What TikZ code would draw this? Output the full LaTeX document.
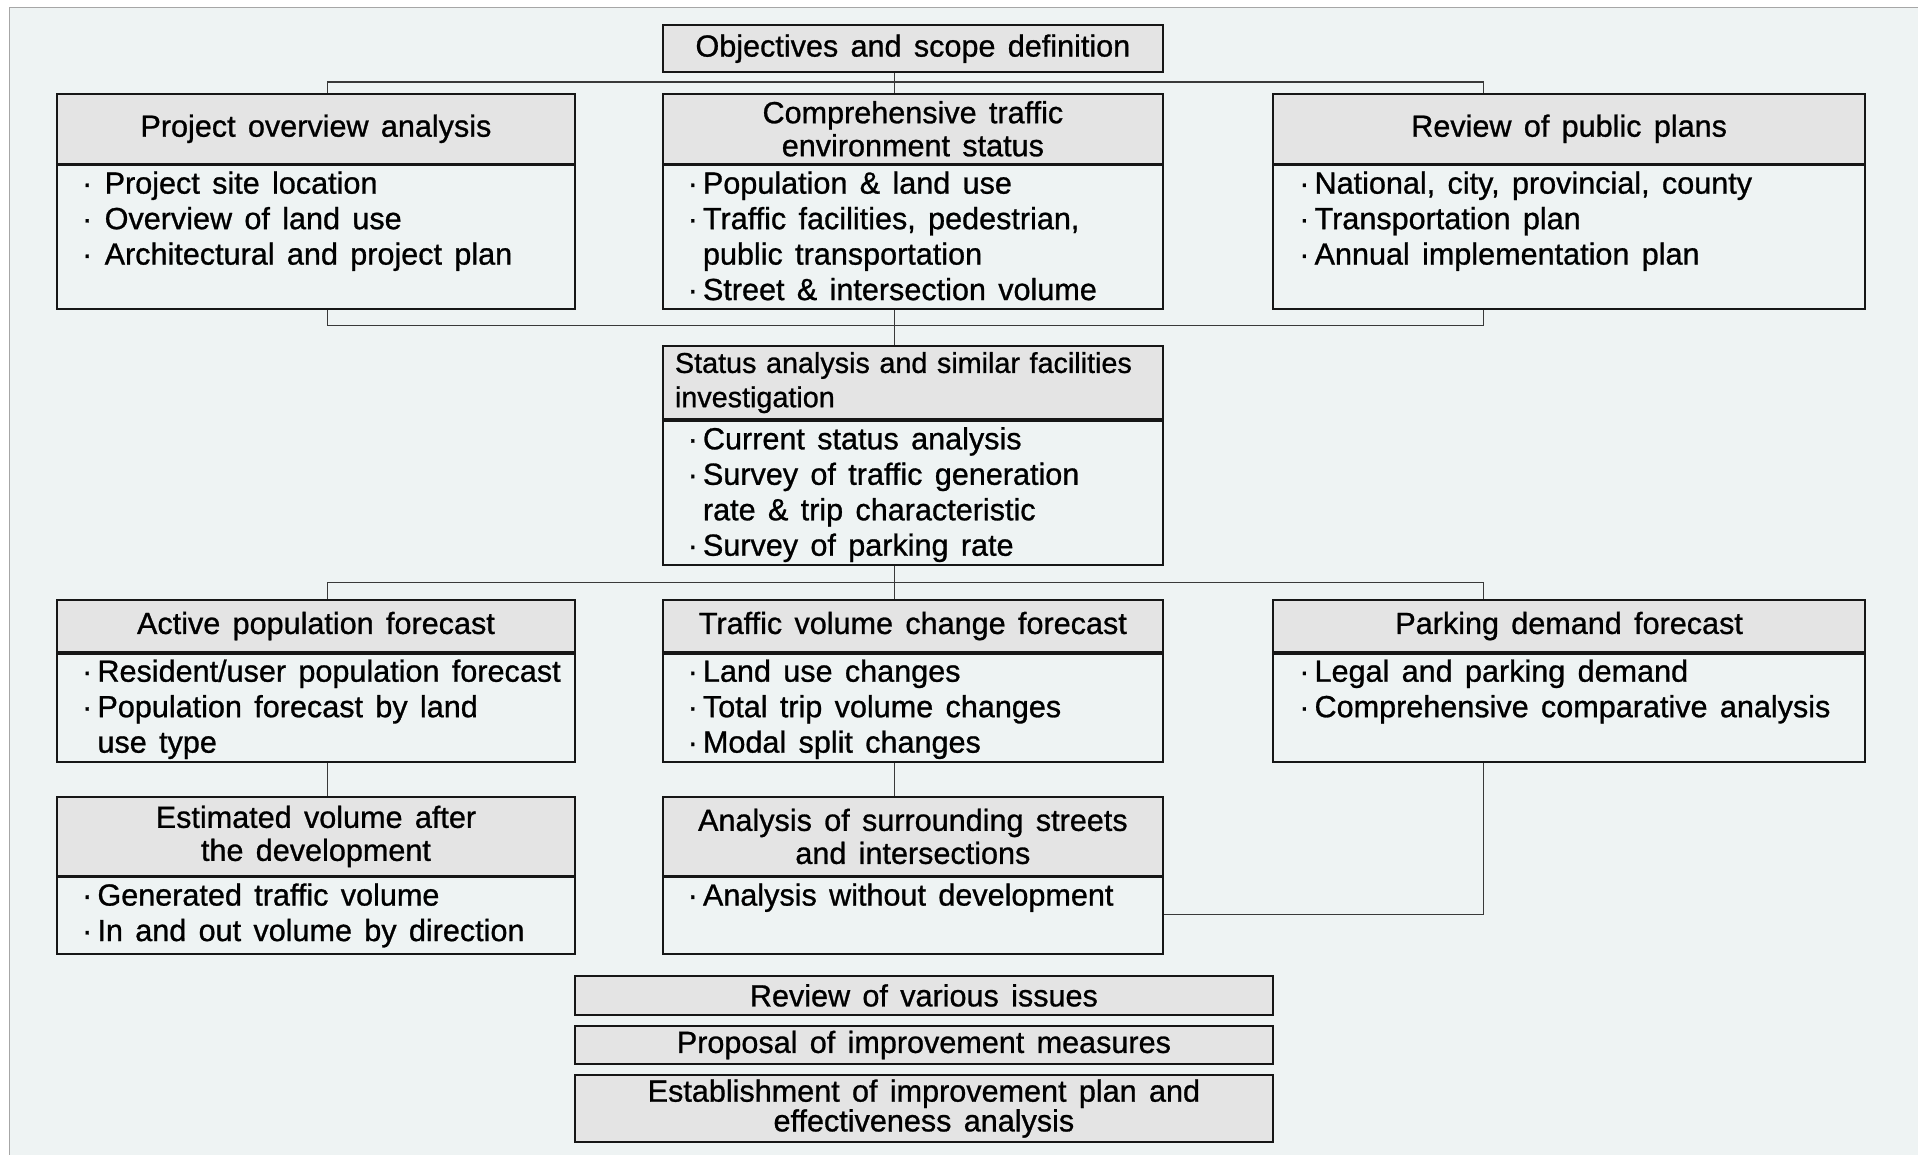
\documentclass[tikz,border=0pt]{standalone}
\usepackage{fontspec}
\setmainfont{Liberation Sans}[WordSpace=1.45, FakeBold=0.9]
\definecolor{paper}{HTML}{EEF3F3}
\definecolor{headgray}{HTML}{E4E4E4}
\definecolor{ink}{HTML}{161616}
\tikzset{
  box/.style={draw=ink, line width=1.6pt, inner sep=0pt, anchor=north west},
  head/.style={box, fill=headgray, align=center, font=\fontsize{25}{27}\selectfont},
  body/.style={box, fill=paper},
  items/.style={anchor=north west, align=left, inner sep=0pt, font=\fontsize{25}{29}\selectfont},
  sep/.style={draw=ink, line width=3pt},
  link/.style={draw=ink!85, line width=0.9pt},
}
\begin{document}
\begin{tikzpicture}[x=1pt, y=-1pt]
  \useasboundingbox (0,0) rectangle (1568,944);
  \fill[white] (0,0) rectangle (1568,944);
  \fill[paper] (8,6) rectangle (1568,944);
  \draw[gray!70, line width=1pt] (8,944) -- (8,6) -- (1568,6);

  \coordinate (cl) at (268,0);
  \coordinate (cm) at (731,0);
  \coordinate (cr) at (1213,0);
  \coordinate (b1) at (731,67);
  \coordinate (b2) at (731,266);
  \coordinate (b3) at (731,476);

  \node[head, minimum width=409pt, minimum height=38pt] (obj) at (541,20) {Objectives and scope definition};

  \node[body, minimum width=423pt, minimum height=119pt] (povb) at (46,133) {};
  \node[head, minimum width=423pt, minimum height=57pt] (pov) at (46,76) {Project overview analysis};
  \node[items] at (67,140) {· Project site location\\· Overview of land use\\· Architectural and project plan};

  \node[body, minimum width=409pt, minimum height=119pt] (cteb) at (541,133) {};
  \node[head, minimum width=409pt, minimum height=57pt] (cte) at (541,76) {Comprehensive traffic\\environment status};
  \node[items] at (562,140) {·\,Population \& land use\\·\,Traffic facilities, pedestrian,\\\hphantom{·\,}public transportation\\·\,Street \& intersection volume};

  \node[body, minimum width=484pt, minimum height=119pt] (rppb) at (1040,133) {};
  \node[head, minimum width=484pt, minimum height=57pt] (rpp) at (1040,76) {Review of public plans};
  \node[items] at (1062,140) {·\,National, city, provincial, county\\·\,Transportation plan\\·\,Annual implementation plan};

  \node[body, minimum width=409pt, minimum height=119pt] (stab) at (541,342) {};
  \node[head, minimum width=409pt, minimum height=60pt, text width=409pt, align=left, font=\fontsize{23.5}{28}\selectfont] (sta) at (541,282) {\hspace*{10pt}Status analysis and similar facilities\\\hspace*{10pt}investigation};
  \node[items] at (562,349) {·\,Current status analysis\\·\,Survey of traffic generation\\\hphantom{·\,}rate \& trip characteristic\\·\,Survey of parking rate};

  \node[body, minimum width=423pt, minimum height=90pt] (apfb) at (46,532) {};
  \node[head, minimum width=423pt, minimum height=42pt] (apf) at (46,490) {Active population forecast};
  \node[items] at (67,539) {·\,Resident/user population forecast\\·\,Population forecast by land\\\hphantom{·\,}use type};

  \node[body, minimum width=409pt, minimum height=90pt] (tvcb) at (541,532) {};
  \node[head, minimum width=409pt, minimum height=42pt] (tvc) at (541,490) {Traffic volume change forecast};
  \node[items] at (562,539) {·\,Land use changes\\·\,Total trip volume changes\\·\,Modal split changes};

  \node[body, minimum width=484pt, minimum height=90pt] (pdfb) at (1040,532) {};
  \node[head, minimum width=484pt, minimum height=42pt] (pdf) at (1040,490) {Parking demand forecast};
  \node[items] at (1062,539) {·\,Legal and parking demand\\·\,Comprehensive comparative analysis};

  \node[body, minimum width=423pt, minimum height=64pt] (evdb) at (46,715) {};
  \node[head, minimum width=423pt, minimum height=64pt] (evd) at (46,651) {Estimated volume after\\the development};
  \node[items] at (67,722) {·\,Generated traffic volume\\·\,In and out volume by direction};

  \node[body, minimum width=409pt, minimum height=64pt] (asib) at (541,715) {};
  \node[head, minimum width=409pt, minimum height=64pt] (asi) at (541,651) {Analysis of surrounding streets\\and intersections};
  \node[items] at (562,722) {·\,Analysis without development};

  \node[head, minimum width=571pt, minimum height=32pt] (rvi) at (469,797) {Review of various issues};
  \node[head, minimum width=571pt, minimum height=31pt] (pim) at (469,838) {Proposal of improvement measures};
  \node[head, minimum width=571pt, minimum height=55pt, font=\fontsize{25}{23}\selectfont] (eip) at (469,878) {Establishment of improvement plan and\\effectiveness analysis};

  \foreach \n in {pov,cte,rpp,sta,apf,tvc,pdf,evd,asi}
    \draw[sep] (\n.south west) -- (\n.south east);

  \draw[link] (obj.south -| cm) -- (cte.north -| cm);
  \draw[link] (pov.north -| cl) |- (b1) -| (rpp.north -| cr);
  \draw[link] (povb.south -| cl) |- (b2) -| (rppb.south -| cr);
  \draw[link] (cteb.south -| cm) -- (sta.north -| cm);
  \draw[link] (stab.south -| cm) -- (tvc.north -| cm);
  \draw[link] (apf.north -| cl) |- (b3) -| (pdf.north -| cr);
  \draw[link] (apfb.south -| cl) -- (evd.north -| cl);
  \draw[link] (tvcb.south -| cm) -- (asi.north -| cm);
  \draw[link] (pdfb.south -| cr) |- (asib.east);
\end{tikzpicture}
\end{document}
